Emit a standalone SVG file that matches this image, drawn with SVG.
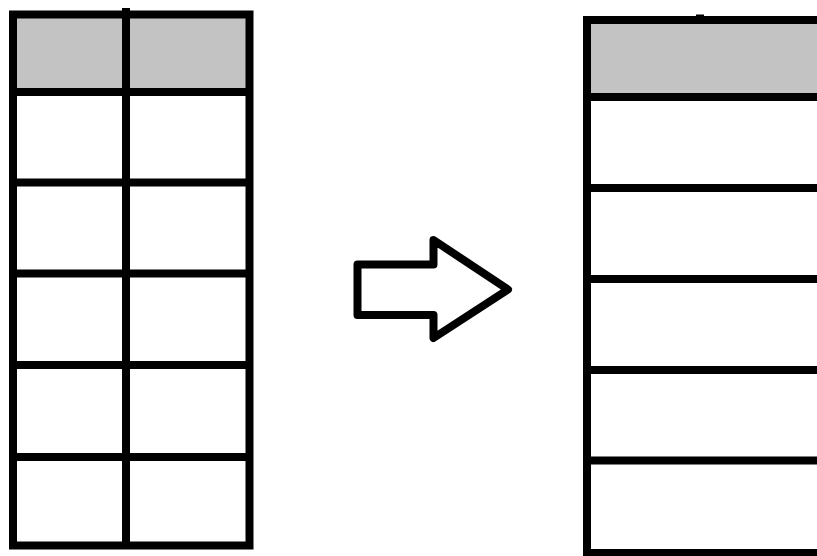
<svg xmlns="http://www.w3.org/2000/svg" width="817" height="556" viewBox="0 0 817 556">
<style>
.ln{stroke:#000;stroke-width:8;fill:none}
.hd{fill:#c3c3c3}
</style>
<rect width="817" height="556" fill="#fff"/>
<g id="table-left">
<rect class="hd" x="13" y="14.5" width="236.5" height="77.5"/>
<rect class="ln" x="13" y="14.5" width="236.5" height="531"/>
<line class="ln" x1="126" y1="8" x2="126" y2="545.5"/>
<line class="ln" x1="13" y1="92" x2="249.5" y2="92"/>
<line class="ln" x1="13" y1="182.5" x2="249.5" y2="182.5"/>
<line class="ln" x1="13" y1="273.5" x2="249.5" y2="273.5"/>
<line class="ln" x1="13" y1="365" x2="249.5" y2="365"/>
<line class="ln" x1="13" y1="457" x2="249.5" y2="457"/>
</g>
<g id="table-right">
<rect class="hd" x="587" y="20" width="240" height="77"/>
<rect class="ln" x="587" y="20" width="240" height="533"/>
<line class="ln" x1="700" y1="14.5" x2="700" y2="20"/>
<line class="ln" x1="587" y1="97" x2="827" y2="97"/>
<line class="ln" x1="587" y1="188" x2="827" y2="188"/>
<line class="ln" x1="587" y1="279" x2="827" y2="279"/>
<line class="ln" x1="587" y1="370" x2="827" y2="370"/>
<line class="ln" x1="587" y1="460.5" x2="827" y2="460.5"/>
</g>
<g id="connectors">
<polygon class="ln" stroke-width="9" stroke-linejoin="round" points="357.5,264.5 433.5,264.5 433.5,240 508,289.5 433.5,338 433.5,315 357.5,315"/>
</g>
</svg>
